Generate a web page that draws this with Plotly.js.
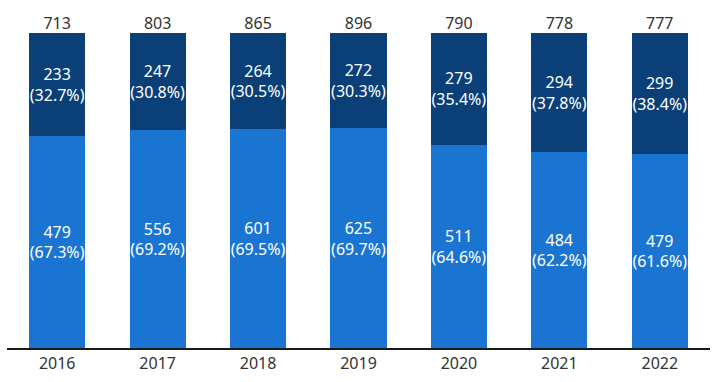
<!DOCTYPE html>
<html>
<head>
<meta charset="utf-8">
<script src="https://cdn.plot.ly/plotly-3.0.1.min.js"></script>
<style>html,body{margin:0;padding:0;background:#fff;}#chart{width:719px;height:382px;}</style>
</head>
<body>
<div id="chart"></div>
<script>
const years = ["2016", "2017", "2018", "2019", "2020", "2021", "2022"];
const totals = [713, 803, 865, 896, 790, 778, 777];
const lowerValues = [479, 556, 601, 625, 511, 484, 479];
const lowerPct = [67.3, 69.2, 69.5, 69.7, 64.6, 62.2, 61.6];
const upperValues = [233, 247, 264, 272, 279, 294, 299];
const upperPct = [32.7, 30.8, 30.5, 30.3, 35.4, 37.8, 38.4];

const font = "'Noto Sans', 'Open Sans', sans-serif";

const lowerTrace = {
  type: "bar", x: years, y: lowerPct,
  marker: {color: "#1a75d2"},
  text: lowerValues.map((v, i) => v + "<br>(" + lowerPct[i].toFixed(1) + "%)"),
  textposition: "inside", insidetextanchor: "middle", textangle: 0,
  constraintext: "none",
  textfont: {color: "#ffffff", size: 16, family: font},
  hoverinfo: "skip"
};
const upperTrace = {
  type: "bar", x: years, y: upperPct,
  marker: {color: "#0b3f78"},
  text: upperValues.map((v, i) => v + "<br>(" + upperPct[i].toFixed(1) + "%)"),
  textposition: "inside", insidetextanchor: "middle", textangle: 0,
  constraintext: "none",
  textfont: {color: "#ffffff", size: 16, family: font},
  hoverinfo: "skip"
};
const totalTrace = {
  type: "scatter", mode: "text", x: years,
  y: lowerPct.map((v, i) => v + upperPct[i]),
  text: totals.map(String),
  textposition: "top center", cliponaxis: false,
  textfont: {color: "#333333", size: 16, family: font},
  hoverinfo: "skip"
};

const layout = {
  width: 719, height: 382,
  margin: {l: 7, r: 9, t: 33, b: 34},
  barmode: "stack", bargap: 0.44,
  paper_bgcolor: "#ffffff", plot_bgcolor: "#ffffff",
  showlegend: false,
  xaxis: {
    type: "category", range: [-0.5, 6.5],
    showline: true, linecolor: "#1a1a1a", linewidth: 2,
    ticks: "", showgrid: false, zeroline: false,
    tickfont: {size: 16, color: "#333333", family: font}
  },
  yaxis: {
    range: [0, 100], visible: false, showgrid: false, zeroline: false
  }
};

Plotly.newPlot("chart", [lowerTrace, upperTrace, totalTrace], layout, {displayModeBar: false, staticPlot: true});
</script>
</body>
</html>
